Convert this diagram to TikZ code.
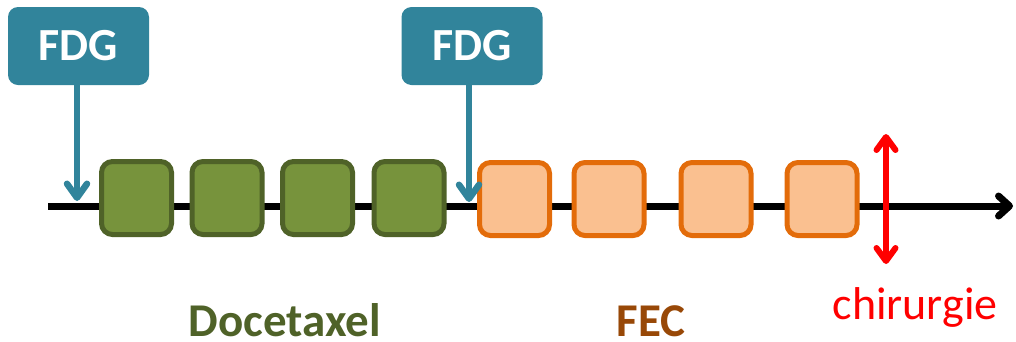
\documentclass[tikz,border=0pt]{standalone}
\usepackage{fontspec}
\setmainfont{Carlito}
\usetikzlibrary{arrows.meta}
\definecolor{fdgteal}{HTML}{31849B}
\definecolor{docfill}{HTML}{77933C}
\definecolor{docline}{HTML}{4F6228}
\definecolor{fecfill}{HTML}{FAC090}
\definecolor{fecline}{HTML}{E36C0A}
\definecolor{fectext}{HTML}{984807}
\tikzset{
  bigfont/.style={font=\fontsize{46}{50}\selectfont},
  fdgbox/.style={rectangle, rounded corners=10pt, fill=fdgteal, text=white,
    minimum width=141pt, minimum height=78pt, inner sep=0pt,
    font=\fontsize{46}{50}\selectfont\bfseries},
  cycle/.style={rectangle, rounded corners=11pt, line width=5pt,
    minimum width=70pt, minimum height=73pt, inner sep=0pt},
  doc/.style={cycle, draw=docline, fill=docfill},
  fec/.style={cycle, draw=fecline, fill=fecfill},
  scan/.style={draw=fdgteal, line width=6.5pt, -{Straight Barb[length=14pt,width=20pt,line width'=6.5pt,round]}},
  timeline/.style={draw=black, line width=7pt, -{Straight Barb[length=11pt,width=20pt,line width'=7pt,round]}},
  surgery/.style={draw=red, line width=6pt,
    {Straight Barb[length=13pt,width=19pt,line width'=6pt,round]}-{Straight Barb[length=13pt,width=19pt,line width'=6pt,round]}},
  label/.style={inner sep=0pt, anchor=base},
}
\begin{document}
\begin{tikzpicture}[x=1pt,y=-1pt]
\useasboundingbox (0,0) rectangle (1016,341);

% time axis
\coordinate (tstart) at (48,206);
\coordinate (tend) at (1013,206);
\draw[timeline] (tstart) -- (tend);

% treatment cycles
\node[doc] (d1) at (136.5,198) {};
\node[doc] (d2) at (227,198) {};
\node[doc] (d3) at (317.5,198) {};
\node[doc] (d4) at (409,198) {};
\node[fec] (f1) at (514.5,199) {};
\node[fec] (f2) at (609,199) {};
\node[fec] (f3) at (716,199) {};
\node[fec] (f4) at (822,199) {};

% PET scans
\node[fdgbox] (fdg1) at (78.5,46) {FDG};
\node[fdgbox] (fdg2) at (472,46) {FDG};
\coordinate (s1) at (77,201);
\coordinate (s2) at (469,202);
\draw[scan] (fdg1.south -| s1) -- (s1);
\draw[scan] (fdg2.south -| s2) -- (s2);

% surgery
\coordinate (op1) at (886,134);
\coordinate (op2) at (886,264);
\draw[surgery] (op1) -- (op2);

% labels
\node[label, font=\fontsize{47}{50}\selectfont\bfseries, text=docline] (ldoc) at (285,336) {Docetaxel};
\node[label, font=\fontsize{47}{50}\selectfont\bfseries, text=fectext] (lfec) at (651,336) {FEC};
\node[label, bigfont, text=red] (lop) at (915,319) {chirurgie};
\end{tikzpicture}
\end{document}
